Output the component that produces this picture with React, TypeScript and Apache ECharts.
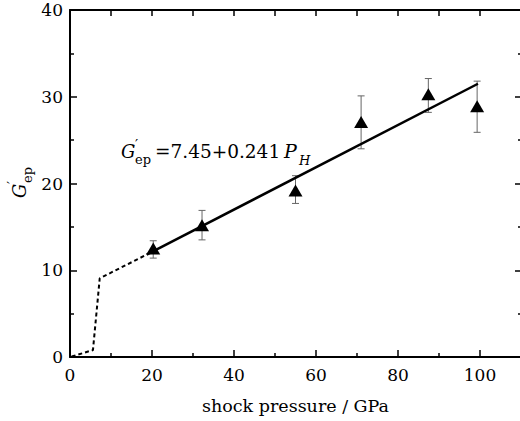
import React, { useEffect, useRef } from "react";
import * as echarts from "echarts";

// Measured points (shock pressure / GPa, G'ep)
const pressure = [20.3, 32.2, 55.0, 71.0, 87.4, 99.3];
const gep = [12.5, 15.2, 19.2, 27.1, 30.3, 28.9];
const errLow = [11.4, 13.5, 17.7, 24.0, 28.2, 25.9];
const errHigh = [13.4, 16.9, 20.9, 30.1, 32.1, 31.8];

// Linear fit G'ep = 7.45 + 0.241 P_H (end points)
const fitX = [18.7, 99.5];
const fitY = [11.8, 31.5];

// Dashed low-pressure branch
const lowX = [0.4, 5.6, 7.25, 18.7];
const lowY = [0.05, 0.8, 9.07, 11.8];

const xName = "shock pressure / GPa";
const fitText = "=7.45+0.241";

const FONT = "DejaVu Serif";

export default function App() {
  const ref = useRef<HTMLDivElement>(null);
  useEffect(() => {
    if (!ref.current) return;
    const chart = echarts.init(ref.current, null, { renderer: "svg" });
    const axisLineStyle = { color: "#000", width: 2 };
    const tickStyle = { color: "#000", width: 1.5 };
    const label = { fontFamily: FONT, fontSize: 17, color: "#000" };
    const t = (text: string, x: number, y: number, size: number, italic = false) => ({
      type: "text",
      x,
      y,
      style: {
        text,
        fill: "#000",
        font: `${italic ? "italic " : ""}${size}px "${FONT}"`,
        verticalAlign: "middle",
        align: "left",
      },
    });
    chart.setOption({
      animation: false,
      backgroundColor: "#fff",
      grid: { left: 70, top: 10, width: 451, height: 347, outerBoundsMode: "none", containLabel: false },
      xAxis: [
        {
          type: "value",
          min: 0,
          max: 110,
          interval: 20,
          position: "bottom",
          axisLine: { show: true, onZero: false, lineStyle: axisLineStyle },
          axisTick: { show: true, inside: true, length: 7, lineStyle: tickStyle },
          minorTick: { show: true, splitNumber: 2, length: 4, lineStyle: tickStyle },
          splitLine: { show: false },
          axisLabel: { ...label, margin: 9, showMaxLabel: false },
          name: xName,
          nameLocation: "middle",
          nameGap: 40,
          nameTextStyle: { fontFamily: FONT, fontSize: 17.5, color: "#000" },
        },
        {
          type: "value",
          min: 0,
          max: 110,
          interval: 10,
          position: "top",
          axisLine: { show: true, onZero: false, lineStyle: axisLineStyle },
          axisTick: { show: true, inside: true, length: 6, lineStyle: tickStyle },
          splitLine: { show: false },
          axisLabel: { show: false },
        },
      ],
      yAxis: [
        {
          type: "value",
          min: 0,
          max: 40,
          interval: 10,
          position: "left",
          axisLine: { show: true, onZero: false, lineStyle: axisLineStyle },
          axisTick: { show: true, inside: true, length: 7, lineStyle: tickStyle },
          minorTick: { show: true, splitNumber: 2, length: 4, lineStyle: tickStyle },
          splitLine: { show: false },
          axisLabel: { ...label, margin: 7 },
        },
        {
          type: "value",
          min: 0,
          max: 40,
          interval: 10,
          position: "right",
          axisLine: { show: true, onZero: false, lineStyle: axisLineStyle },
          axisTick: { show: true, inside: true, length: 6, lineStyle: tickStyle },
          minorTick: { show: true, splitNumber: 2, length: 3, lineStyle: tickStyle },
          splitLine: { show: false },
          axisLabel: { show: false },
        },
      ],
      series: [
        {
          type: "line",
          data: lowX.map((x, i) => [x, lowY[i]]),
          symbol: "none",
          lineStyle: { color: "#000", width: 2, type: [4, 3] },
          z: 3,
        },
        {
          type: "line",
          data: fitX.map((x, i) => [x, fitY[i]]),
          symbol: "none",
          lineStyle: { color: "#000", width: 2.5 },
          z: 3,
        },
        {
          type: "custom",
          data: pressure.map((x, i) => [x, errLow[i], errHigh[i]]),
          encode: { x: 0, y: [1, 2] },
          z: 2,
          renderItem: (params: any, api: any) => {
            const x = api.value(0);
            const lo = api.coord([x, api.value(1)]);
            const hi = api.coord([x, api.value(2)]);
            const cap = 3.5;
            const style = { stroke: "#666", lineWidth: 1 };
            return {
              type: "group",
              children: [
                { type: "line", shape: { x1: lo[0], y1: lo[1], x2: hi[0], y2: hi[1] }, style },
                { type: "line", shape: { x1: lo[0] - cap, y1: lo[1], x2: lo[0] + cap, y2: lo[1] }, style },
                { type: "line", shape: { x1: hi[0] - cap, y1: hi[1], x2: hi[0] + cap, y2: hi[1] }, style },
              ],
            };
          },
        },
        {
          type: "scatter",
          data: pressure.map((x, i) => [x, gep[i]]),
          symbol: "triangle",
          symbolSize: [14, 12],
          itemStyle: { color: "#000", opacity: 1 },
          z: 4,
        },
      ],
      graphic: [
        {
          type: "group",
          x: 0,
          y: 0,
          children: [
            t("G", 121, 151, 18, true),
            t("\u2032", 135, 145, 14),
            t("ep", 135, 159.5, 13),
            t(fitText, 155, 151, 18.5),
            t("P", 284, 151, 19, true),
            t("H", 299, 160, 13, true),
          ],
        },
        {
          type: "group",
          x: 25,
          y: 198,
          rotation: Math.PI / 2,
          children: [
            t("G", 0, -6, 18, true),
            t("\u2032", 14, -12, 14),
            t("ep", 15, 2.5, 13),
          ],
        },
      ],
    });
    return () => chart.dispose();
  }, []);
  return (
    <div
      ref={ref}
      style={{ position: "fixed", left: 0, top: 0, width: 520, height: 421, background: "#fff" }}
    />
  );
}
